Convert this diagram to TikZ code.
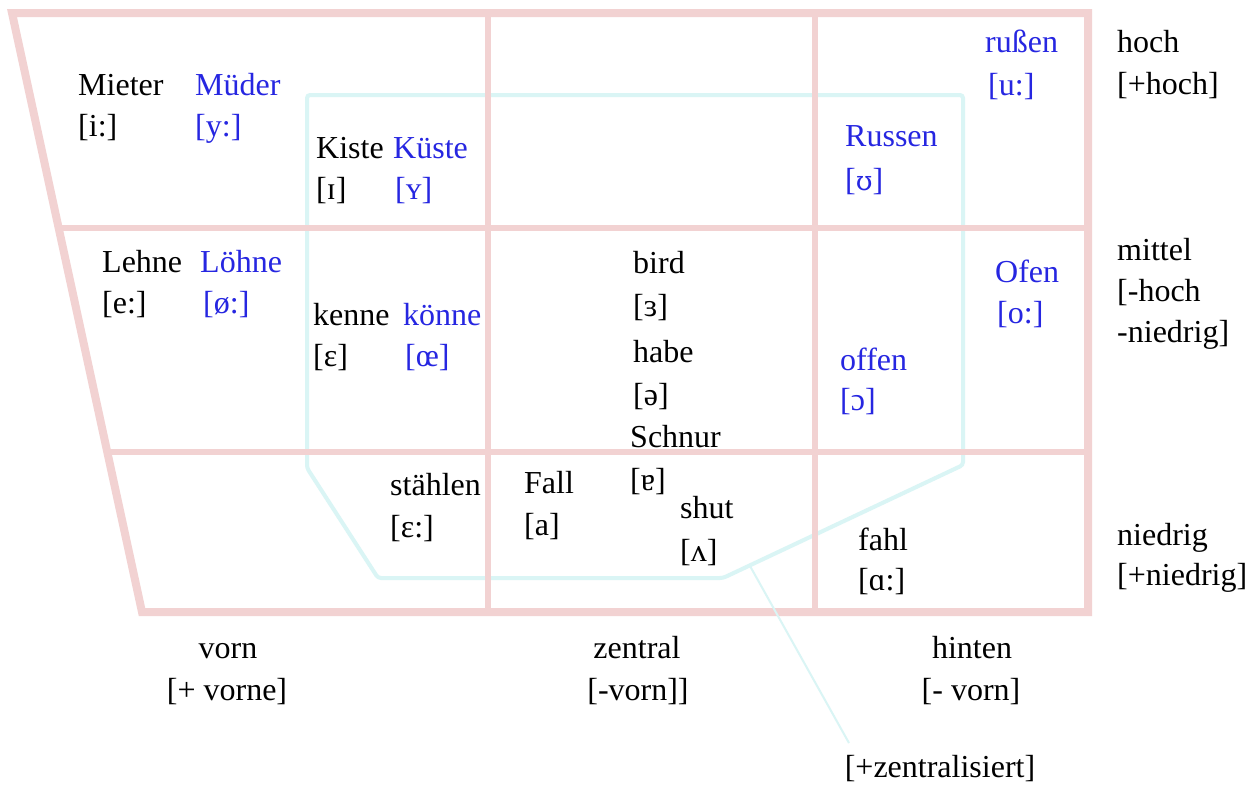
\documentclass[tikz,border=0pt]{standalone}
\usepackage{fontspec}
\setmainfont{Liberation Serif}
\newfontfamily\ipafont{DejaVu Serif}
\definecolor{pinkline}{RGB}{242,210,210}
\definecolor{cyanline}{RGB}{218,245,245}
\definecolor{vblue}{RGB}{38,38,225}
\begin{document}
\begin{tikzpicture}[x=1pt,y=-1pt,
  every node/.style={inner sep=0pt, font=\fontsize{32}{38}\selectfont},
  lbl/.style={anchor=base west},
  blu/.style={anchor=base west, text=vblue},
  ctr/.style={anchor=base},
  outer/.style={draw=pinkline, line width=8pt, line join=miter},
  inner/.style={draw=pinkline, line width=6pt},
  zone/.style={draw=cyanline, line width=4pt, rounded corners=3pt},
  pointer/.style={draw=cyanline, line width=2pt}]
\useasboundingbox (0,0) rectangle (1255,785);
\fill[white] (0,0) rectangle (1255,785);
% cyan zone of centralised vowels
\path[zone] (307,95) -- (963,95) -- (963,465) -- (723,578) -- (378,578) -- (307,468) -- cycle;
% vowel trapezoid
\coordinate (tl) at (12,13);
\coordinate (tr) at (1088,13);
\coordinate (br) at (1088,612);
\coordinate (bl) at (142,612);
\path[inner] (59,228) -- (1088,228);
\path[inner] (107,452) -- (1088,452);
\path[inner] (488,13) -- (488,612);
\path[inner] (815,13) -- (815,612);
\path[outer] (tl) -- (tr) -- (br) -- (bl) -- cycle;
% high row
\node[lbl] (mieter) at (78,95) {Mieter};
\node[lbl] (mieteripa) at (78,136) {[i:]};
\node[blu] (mueder) at (195,95) {Müder};
\node[blu] (muederipa) at (195,136) {[y:]};
\node[lbl] (kiste) at (316,158) {Kiste};
\node[lbl] (kisteipa) at (316,199) {[ɪ]};
\node[blu] (kueste) at (393,158) {Küste};
\node[blu] (kuesteipa) at (395,199) {[ʏ]};
\node[blu] (russen) at (845,146) {Russen};
\node[blu] (russenipa) at (845,190) {[{\ipafont\fontsize{27}{32}\selectfont ʊ}]};
\node[blu] (russzen) at (985,52) {rußen};
\node[blu] (russzenipa) at (988,95) {[u:]};
% mid row
\node[lbl] (lehne) at (102,272) {Lehne};
\node[lbl] (lehneipa) at (102,313) {[e:]};
\node[blu] (loehne) at (200,272) {Löhne};
\node[blu] (loehneipa) at (203,313) {[ø:]};
\node[lbl] (kenne) at (313,325) {kenne};
\node[lbl] (kenneipa) at (313,366) {[ɛ]};
\node[blu] (koenne) at (403,325) {könne};
\node[blu] (koenneipa) at (405,366) {[œ]};
\node[lbl] (bird) at (633,273) {bird};
\node[lbl] (birdipa) at (633,316) {[ɜ]};
\node[lbl] (habe) at (633,362) {habe};
\node[lbl] (habeipa) at (633,405) {[ə]};
\node[lbl] (schnur) at (630,447) {Schnur};
\node[lbl] (schnuripa) at (630,490) {[ɐ]};
\node[blu] (ofen) at (995,282) {Ofen};
\node[blu] (ofenipa) at (997,323) {[o:]};
\node[blu] (offen) at (840,370) {offen};
\node[blu] (offenipa) at (840,410) {[ɔ]};
% low row
\node[lbl] (staehlen) at (390,495) {stählen};
\node[lbl] (staehlenipa) at (390,537) {[ɛ:]};
\node[lbl] (fall) at (524,493) {Fall};
\node[lbl] (fallipa) at (524,535) {[a]};
\node[lbl] (shut) at (680,518) {shut};
\node[lbl] (shutipa) at (680,561) {[ʌ]};
\node[lbl] (fahl) at (858,550) {fahl};
\node[lbl] (fahlipa) at (858,590) {[ɑ:]};
% height labels
\node[lbl] (hoch) at (1117,52) {hoch};
\node[lbl] (hochf) at (1117,94) {[+hoch]};
\node[lbl] (mittel) at (1117,260) {mittel};
\node[lbl] (mittelfa) at (1117,301) {[-hoch};
\node[lbl] (mittelfb) at (1117,342) {-niedrig]};
\node[lbl] (niedrig) at (1117,545) {niedrig};
\node[lbl] (niedrigf) at (1117,585) {[+niedrig]};
% backness labels
\node[ctr] (vorn) at (228,658) {vorn};
\node[ctr] (vornf) at (227,700) {[+ vorne]};
\node[ctr] (zentral) at (637,658) {zentral};
\node[ctr] (zentralf) at (638,700) {[-vorn]]};
\node[ctr] (hinten) at (972,658) {hinten};
\node[ctr] (hintenf) at (971,700) {[- vorn]};
\node[ctr] (zentralisiert) at (940,777) {[+zentralisiert]};
% pointer
\coordinate (zstart) at (750,566);
\coordinate (zend) at (849,743);
\path[pointer] (zstart) -- (zend);
\end{tikzpicture}
\end{document}
